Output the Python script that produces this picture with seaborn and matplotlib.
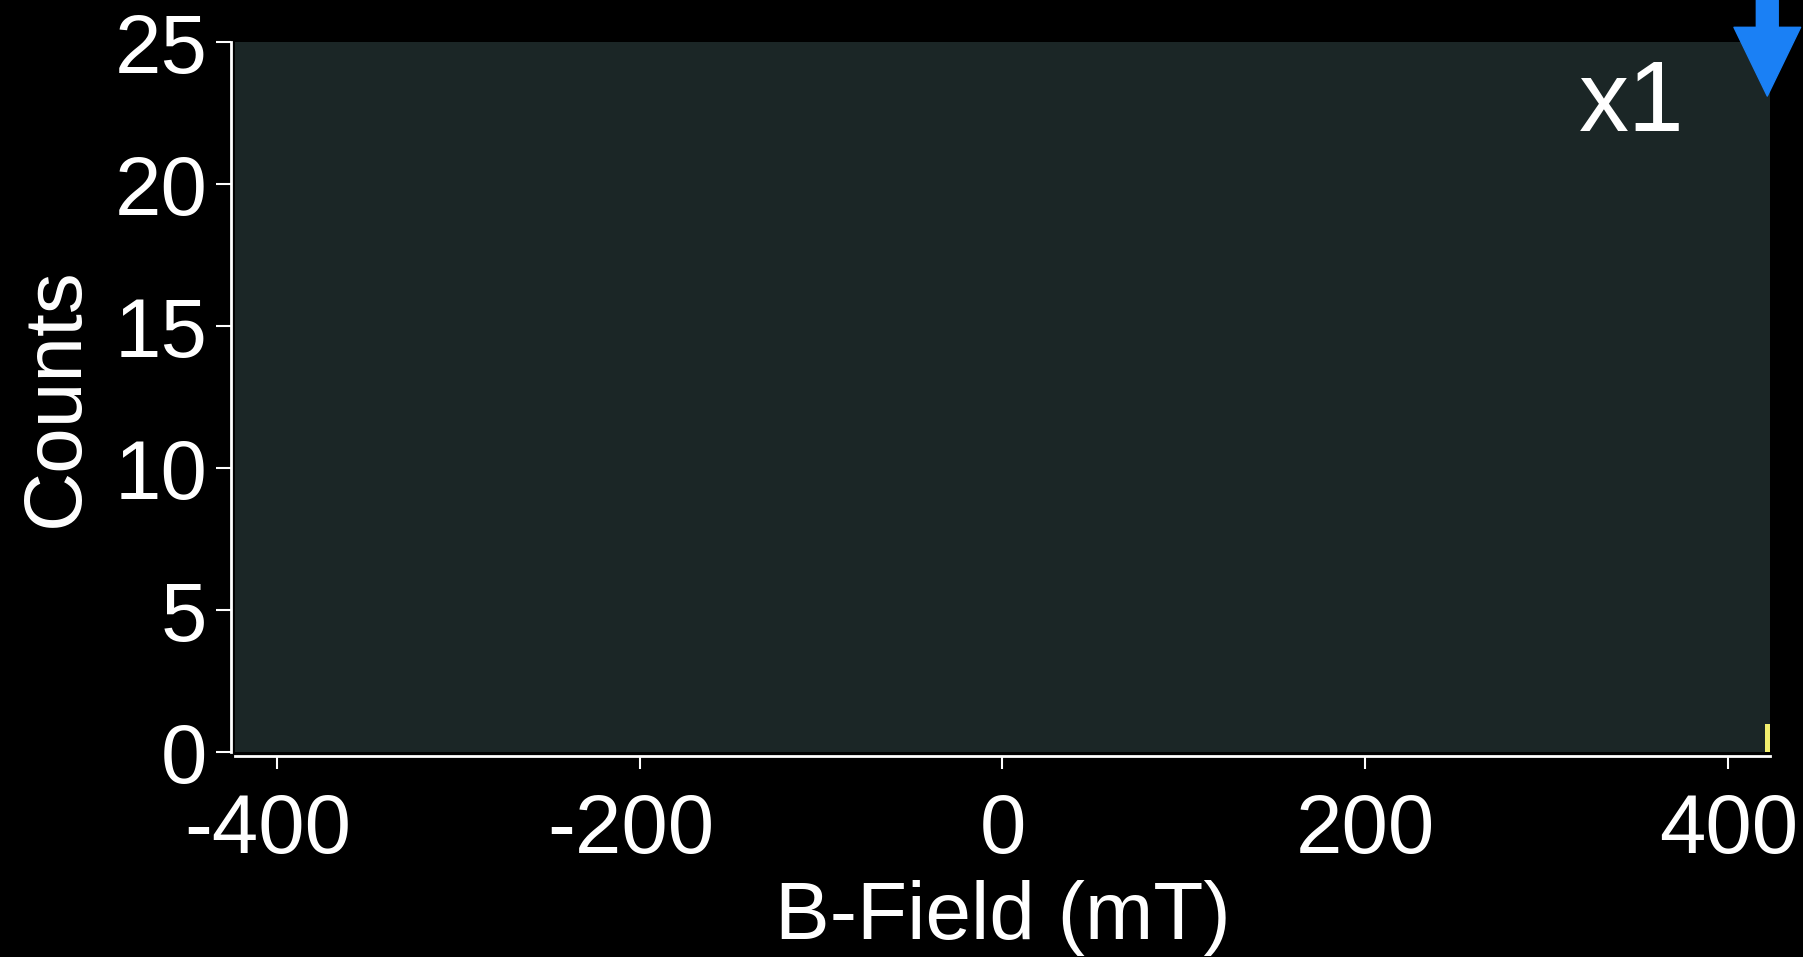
import matplotlib
matplotlib.use("Agg")
import matplotlib.pyplot as plt
import matplotlib.transforms as mtransforms
import seaborn as sns
import pandas as pd

# Histogram of field values: bin centres (mT) and counts per bin
bin_centers = [421.5]
bin_counts = [1]
bin_width = 3.0

x_ticks = [-400, -200, 0, 200, 400]
y_ticks = [0, 5, 10, 15, 20, 25]
scale_label = "x1"
marker_field = 421.5  # position of the current-field arrow (mT)

sns.set_theme(style="dark")
plt.rcParams.update({
    "font.family": ["Liberation Sans", "DejaVu Sans"],
    "figure.facecolor": "black",
    "axes.facecolor": "#1b2626",
    "axes.edgecolor": "white",
    "axes.labelcolor": "white",
    "xtick.color": "white",
    "ytick.color": "white",
    "text.color": "white",
})

df = pd.DataFrame({"field": bin_centers, "count": bin_counts})

fig = plt.figure(figsize=(18.03, 9.57), dpi=100)
ax = fig.add_axes([0.1303, 0.2142, 0.9817 - 0.1303, 0.956 - 0.2142])

sns.histplot(data=df, x="field", weights="count", binwidth=bin_width,
             binrange=(420.0, 423.0), ax=ax,
             color="#f2ef6e", edgecolor="none", linewidth=0, alpha=1.0)

ax.set_xlim(-423, 423)
ax.set_ylim(0, 25)
ax.set_xticks(x_ticks)
ax.set_yticks(y_ticks)
ax.set_xticklabels([str(v) for v in x_ticks])
ax.set_yticklabels([str(v) for v in y_ticks])

for side in ("top", "right"):
    ax.spines[side].set_visible(False)
for side in ("left", "bottom"):
    ax.spines[side].set_position(("outward", 3))
    ax.spines[side].set_linewidth(2)
    ax.spines[side].set_color("white")

ax.tick_params(axis="both", which="major", labelsize=60, width=1.5,
               direction="out", bottom=True, left=True)
ax.tick_params(axis="y", length=11, pad=6)
ax.tick_params(axis="x", length=9, pad=17)
ax.grid(False)

# nudge negative tick labels so the digits sit under their ticks
shift = mtransforms.ScaledTranslation(-9 / 100, 0, fig.dpi_scale_trans)
for lbl in ax.get_xticklabels():
    if lbl.get_text().startswith("-"):
        lbl.set_transform(lbl.get_transform() + shift)

ax.set_xlabel("B-Field (mT)", fontsize=59, labelpad=7)
ax.set_ylabel("Counts", fontsize=59, labelpad=14)

ax.text(0.944, 0.977, scale_label, transform=ax.transAxes, fontsize=72,
        ha="right", va="top", color="white")

ax.annotate("", xy=(marker_field, 23.1), xytext=(marker_field, 30.0),
            xycoords="data", textcoords="data", annotation_clip=False,
            arrowprops=dict(arrowstyle="simple,head_width=3.2,head_length=3.3,tail_width=1.05",
                            color="#1a80f5", mutation_scale=15, shrinkA=0, shrinkB=0))

fig.savefig("out.png", dpi=100, facecolor="black")
